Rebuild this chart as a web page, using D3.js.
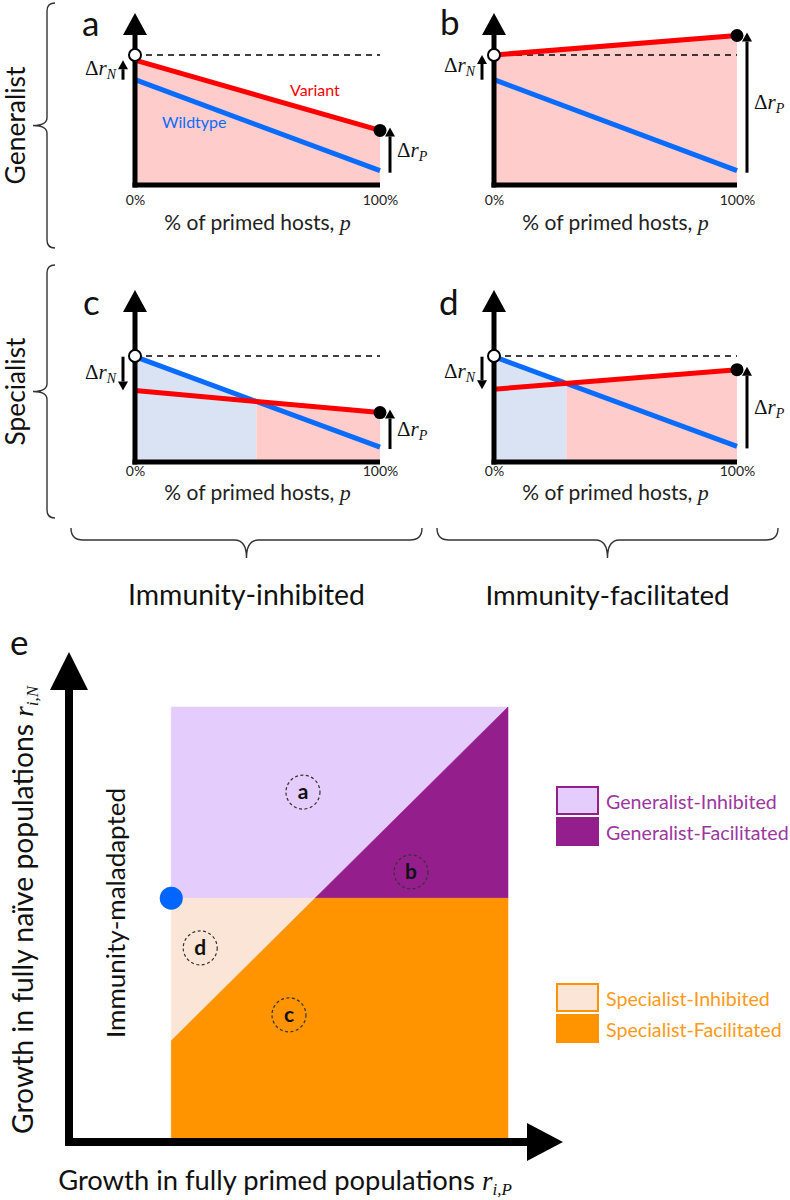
<!DOCTYPE html>
<html><head><meta charset="utf-8">
<script src="https://cdn.jsdelivr.net/npm/d3@7"></script>
<style>body{margin:0;background:#fff} svg{display:block}</style>
</head><body>
<svg id="chart" width="790" height="1200"></svg>
<script>
// ---------------- data ----------------
const panelIds = ["a", "b", "c", "d"];
const primedShare = [0, 100];                 // % of primed hosts
const pTickLabels = ["0%", "100%"];
const wildtypeGrowth = [[81, 11], [81, 11], [81, 11.5], [81, 12]];
const variantGrowth  = [[96, 42], [100, 115], [55, 38], [56, 71]];
const referenceGrowth = [100, 100, 81.5, 81.5];
const seriesNames = ["Variant", "Wildtype"];
const rowLabels = ["Generalist", "Specialist"];
const colLabels = ["Immunity-inhibited", "Immunity-facilitated"];

// panel e
const wildtypePoint = [21.2, 51];             // [r_P, r_N]
const rMax = 91;
const regionNames = ["Generalist-Inhibited", "Generalist-Facilitated", "Specialist-Inhibited", "Specialist-Facilitated"];
const regionColors = ["#E4CCFC", "#951E8D", "#FBE5D6", "#FF9400"];
const legendTextColors = ["#9C37A0", "#9C37A0", "#FF9A1A", "#FF9A1A"];
const circleLabels = ["a", "b", "c", "d"];
const circlePositions = [[48.5, 73.2], [70.9, 56.5], [45.6, 26.6], [27.2, 40.6]];

// ---------------- layout ----------------
const svg = d3.select("#chart");
const SANS = "Lato, 'Noto Sans', sans-serif";
const SERIF = "'Liberation Serif', 'DejaVu Serif', serif";
const RED = "#FF0000", BLUE = "#0A6CFF", PINK = "#FFCCCC", LBLUE = "#DAE3F3";

function fit(sel, w) {
  const l = sel.node().getComputedTextLength();
  const fs = parseFloat(sel.attr("font-size"));
  sel.attr("font-size", fs * w / l);
  return sel;
}
function arrow(g, x, y1, y2, lw, hw, hl) {
  const dir = y2 < y1 ? -1 : 1;
  g.append("line").attr("x1", x).attr("x2", x).attr("y1", y1).attr("y2", y2 - dir * hl)
    .attr("stroke", "#000").attr("stroke-width", lw);
  g.append("path").attr("d", `M${x - hw},${y2 - dir * hl}L${x + hw},${y2 - dir * hl}L${x},${y2}Z`).attr("fill", "#000");
}
function mathLabel(g, x, y, sub, anchor) {
  const t = g.append("text").attr("x", x).attr("y", y).attr("font-family", SERIF)
    .attr("font-size", 21).attr("text-anchor", anchor).attr("fill", "#111");
  t.append("tspan").text("\u0394");
  t.append("tspan").attr("font-style", "italic").text("r");
  t.append("tspan").attr("font-style", "italic").attr("font-size", 14).attr("dy", 4).text(sub);
  return t;
}
function braceV(x, y1, y2, depth, curl) {
  const ym = (y1 + y2) / 2;
  return `M${x + curl},${y1}Q${x},${y1} ${x},${y1 + curl}L${x},${ym - curl}Q${x},${ym} ${x - depth},${ym}` +
         `Q${x},${ym} ${x},${ym + curl}L${x},${y2 - curl}Q${x},${y2} ${x + curl},${y2}`;
}
function braceH(y, x1, x2, depth, curl) {
  const xm = (x1 + x2) / 2;
  return `M${x1},${y - curl}Q${x1},${y} ${x1 + curl},${y}L${xm - curl},${y}Q${xm},${y} ${xm},${y + depth}` +
         `Q${xm},${y} ${xm + curl},${y}L${x2 - curl},${y}Q${x2},${y} ${x2},${y - curl}`;
}

const panelBox = [
  { x0: 135, x1: 380, base: 185, tickY: 22, titleY: 45, lx: 82, ly: 36 },
  { x0: 494, x1: 737, base: 185, tickY: 22, titleY: 45, lx: 440, ly: 35 },
  { x0: 135, x1: 380, base: 462, tickY: 16, titleY: 38, lx: 83, ly: 315 },
  { x0: 494, x1: 737, base: 462, tickY: 16, titleY: 38, lx: 439, ly: 315 }
];

panelIds.forEach((id, i) => {
  const b = panelBox[i];
  const g = svg.append("g");
  const xs = d3.scaleLinear().domain([0, 100]).range([b.x0, b.x1]);
  const ys = d3.scaleLinear().domain([0, 100]).range([b.base, b.base - 130]);
  const w = wildtypeGrowth[i], v = variantGrowth[i];
  const wAt = p => w[0] + (w[1] - w[0]) * p / 100;
  const vAt = p => v[0] + (v[1] - v[0]) * p / 100;
  const d0 = v[0] - w[0], d1 = v[1] - w[1];
  const segs = [];
  if (d0 * d1 < 0) {
    const pc = 100 * d0 / (d0 - d1);
    segs.push([0, pc], [pc, 100]);
  } else segs.push([0, 100]);
  segs.forEach(([pa, pb]) => {
    const mid = (pa + pb) / 2;
    const top = vAt(mid) >= wAt(mid) ? vAt : wAt;
    const col = vAt(mid) >= wAt(mid) ? PINK : LBLUE;
    const area = d3.area().x(d => xs(d)).y0(ys(0)).y1(d => ys(top(d)));
    g.append("path").attr("d", area([pa, pb])).attr("fill", col);
  });
  // reference dashed line
  g.append("line").attr("x1", xs(0)).attr("x2", xs(100)).attr("y1", ys(referenceGrowth[i])).attr("y2", ys(referenceGrowth[i]))
    .attr("stroke", "#000").attr("stroke-width", 1.5).attr("stroke-dasharray", "6,5");
  const line = d3.line().x((d, k) => xs(primedShare[k])).y(d => ys(d));
  g.append("path").attr("d", line(w)).attr("fill", "none").attr("stroke", BLUE).attr("stroke-width", 5);
  g.append("path").attr("d", line(v)).attr("fill", "none").attr("stroke", RED).attr("stroke-width", 5);
  // x axis
  const ax = g.append("g").attr("transform", `translate(0,${b.base})`)
    .call(d3.axisBottom(xs).tickValues(primedShare).tickFormat((d, k) => pTickLabels[k]).tickSize(0).tickSizeOuter(0).tickPadding(b.tickY - 12));
  ax.select(".domain").attr("stroke", "#000").attr("stroke-width", 5).attr("d", `M${b.x0 - 2.5},0H${b.x1}`);
  ax.selectAll("text").attr("font-family", SANS).attr("font-size", 14).attr("fill", "#222");
  // y axis with arrow
  g.append("line").attr("x1", b.x0).attr("x2", b.x0).attr("y1", b.base + 2.5).attr("y2", b.base - 150)
    .attr("stroke", "#000").attr("stroke-width", 5);
  g.append("path").attr("d", `M${b.x0 - 12},${b.base - 150}L${b.x0 + 12},${b.base - 150}L${b.x0},${b.base - 172}Z`).attr("fill", "#000");
  // markers
  g.append("circle").attr("cx", xs(0)).attr("cy", ys(referenceGrowth[i])).attr("r", 6)
    .attr("fill", "#fff").attr("stroke", "#000").attr("stroke-width", 2);
  g.append("circle").attr("cx", xs(100)).attr("cy", ys(v[1])).attr("r", 6.5).attr("fill", "#000");
  // delta arrows
  arrow(g, b.x0 - 12, ys(w[0]), ys(v[0]), 3, 5, 9);
  arrow(g, b.x1 + 10, ys(w[1]) + 2, ys(v[1]) - 3, 3, 5, 9);
  mathLabel(g, b.x0 - 19, (ys(w[0]) + ys(v[0])) / 2 + 5, "N", "end");
  mathLabel(g, b.x1 + 17, (ys(w[1]) + ys(v[1])) / 2 + 6, "P", "start");
  // title
  const t = g.append("text").attr("x", (b.x0 + b.x1) / 2).attr("y", b.base + b.titleY)
    .attr("text-anchor", "middle").attr("font-family", SANS).attr("font-size", 20).attr("fill", "#222");
  t.append("tspan").text("% of primed hosts, ");
  t.append("tspan").attr("font-family", SERIF).attr("font-style", "italic").attr("font-size", 22).text("p");
  fit(t, 187);
  // panel letter
  g.append("text").attr("x", b.lx).attr("y", b.ly).attr("font-family", SANS).attr("font-size", 35).attr("fill", "#111").text(id);
  if (i === 0) {
    g.append("text").attr("x", 290).attr("y", 96).attr("font-family", SANS).attr("font-size", 16).attr("fill", RED).text(seriesNames[0]);
    g.append("text").attr("x", 162).attr("y", 128).attr("font-family", SANS).attr("font-size", 16).attr("fill", BLUE).text(seriesNames[1]);
  }
});

// row braces & labels
[[3, 248], [265, 518]].forEach(([y1, y2], i) => {
  svg.append("path").attr("d", braceV(47, y1, y2, 14, 8)).attr("fill", "none").attr("stroke", "#333").attr("stroke-width", 1.4);
  const t = svg.append("text").attr("transform", `translate(25,${(y1 + y2) / 2}) rotate(-90)`)
    .attr("text-anchor", "middle").attr("font-family", SANS).attr("font-size", 26).attr("fill", "#111").text(rowLabels[i]);
  fit(t, i === 0 ? 118 : 108);
});
// column braces & labels
[[71, 422], [437, 778]].forEach(([x1, x2], i) => {
  svg.append("path").attr("d", braceH(540, x1, x2, 18, 12)).attr("fill", "none").attr("stroke", "#333").attr("stroke-width", 1.4);
  const t = svg.append("text").attr("x", (x1 + x2) / 2).attr("y", 605).attr("text-anchor", "middle")
    .attr("font-family", SANS).attr("font-size", 24).attr("fill", "#111").text(colLabels[i]);
  fit(t, i === 0 ? 237 : 244);
});

// ---------------- panel e ----------------
const xE = d3.scaleLinear().domain([0, 100]).range([69, 551.4]);
const yE = d3.scaleLinear().domain([0, 100]).range([1142, 664]);
const [wx, wy] = wildtypePoint;
const regions = [
  [[wx, wy], [wx, rMax], [rMax, rMax], [wy, wy]],
  [[wy, wy], [rMax, rMax], [rMax, wy]],
  [[wx, wx], [wx, wy], [wy, wy]],
  [[wx, 0], [wx, wx], [wy, wy], [rMax, wy], [rMax, 0]]
];
const eg = svg.append("g");
eg.selectAll("path.region").data(regions).join("path").attr("class", "region")
  .attr("d", d => "M" + d.map(p => `${xE(p[0])},${yE(p[1])}`).join("L") + "Z")
  .attr("fill", (d, i) => regionColors[i]).attr("stroke", (d, i) => regionColors[i]).attr("stroke-width", 0.6);

// circled labels
circleLabels.forEach((l, i) => {
  const [cx, cy] = [xE(circlePositions[i][0]), yE(circlePositions[i][1])];
  eg.append("circle").attr("cx", cx).attr("cy", cy).attr("r", 17).attr("fill", "none")
    .attr("stroke", "#333").attr("stroke-width", 1.2).attr("stroke-dasharray", "3,2.5");
  eg.append("text").attr("x", cx).attr("y", cy + 7).attr("text-anchor", "middle").attr("font-family", SANS)
    .attr("font-weight", "bold").attr("font-size", 21).attr("fill", "#111").text(l);
});

// axes
eg.append("line").attr("x1", xE(0)).attr("x2", xE(0)).attr("y1", 1146).attr("y2", 690).attr("stroke", "#000").attr("stroke-width", 8);
eg.append("path").attr("d", `M${xE(0) - 19},690L${xE(0) + 19},690L${xE(0)},652Z`).attr("fill", "#000");
eg.append("line").attr("x1", 65).attr("x2", 528).attr("y1", yE(0)).attr("y2", yE(0)).attr("stroke", "#000").attr("stroke-width", 8);
eg.append("path").attr("d", `M527,${yE(0) - 19}L527,${yE(0) + 19}L563,${yE(0)}Z`).attr("fill", "#000");

// wildtype point
eg.append("circle").attr("cx", xE(wx)).attr("cy", yE(wy)).attr("r", 11.5).attr("fill", "#0066FF");

// letter e
svg.append("text").attr("x", 10).attr("y", 655).attr("font-family", SANS).attr("font-size", 35).attr("fill", "#111").text("e");

// axis labels
function axisLabel(t, main, sub) {
  t.attr("font-family", SANS).attr("font-size", 24).attr("fill", "#111").attr("text-anchor", "middle");
  t.append("tspan").text(main);
  t.append("tspan").attr("font-family", SERIF).attr("font-style", "italic").attr("font-size", 27).text("r");
  t.append("tspan").attr("font-family", SERIF).attr("font-style", "italic").attr("font-size", 17).attr("dy", 5).text(sub);
}
const yl = svg.append("text").attr("transform", "translate(33,910) rotate(-90)");
axisLabel(yl, "Growth in fully na\u00efve populations ", "i,N");
fit(yl, 454);
const xl = svg.append("text").attr("x", 285).attr("y", 1190);
axisLabel(xl, "Growth in fully primed populations ", "i,P");
fit(xl, 458);
const ml = svg.append("text").attr("transform", "translate(125,913) rotate(-90)").attr("text-anchor", "middle")
  .attr("font-family", SANS).attr("font-size", 24).attr("fill", "#111").text("Immunity-maladapted");
fit(ml, 250);

// legend
const legendY = [787, 818, 984, 1015];
let legFs = null;
regionNames.forEach((name, i) => {
  eg.append("rect").attr("x", 557).attr("y", legendY[i]).attr("width", 41).attr("height", 27)
    .attr("fill", regionColors[i]).attr("stroke", i % 2 === 0 ? regionColors[i + 1] : regionColors[i]).attr("stroke-width", 2);
  const t = eg.append("text").attr("x", 606).attr("y", legendY[i] + 22).attr("font-family", SANS)
    .attr("font-size", 20).attr("fill", legendTextColors[i]).text(name);
  if (i === 0) { fit(t, 171); legFs = t.attr("font-size"); } else t.attr("font-size", legFs);
});
</script>
</body></html>
